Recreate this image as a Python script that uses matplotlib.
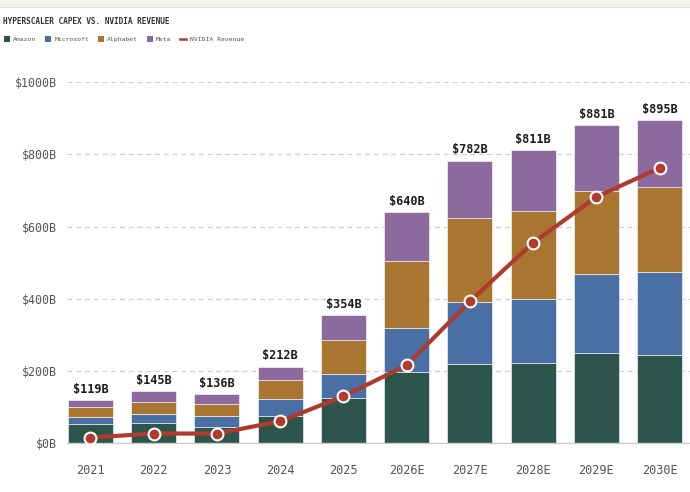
import numpy as np
import matplotlib
matplotlib.use("Agg")
import matplotlib.pyplot as plt
from matplotlib.patches import Rectangle
from matplotlib.lines import Line2D

# data (USD billions)
years = ["2021", "2022", "2023", "2024", "2025", "2026E", "2027E", "2028E", "2029E", "2030E"]
amazon = [54, 57, 46, 76, 126, 197, 220, 223, 249, 245]
microsoft = [20, 23, 29, 46, 67, 122, 170, 177, 220, 230]
alphabet = [26, 34, 33, 53, 92, 186, 233, 243, 230, 235]
meta = [19, 31, 28, 37, 69, 135, 159, 168, 182, 185]
nvidia_rev = [16, 27, 27, 61, 130, 216, 393, 555, 682, 762]
y_ticks = [0, 200, 400, 600, 800, 1000]

names = ["Amazon", "Microsoft", "Alphabet", "Meta"]
colors = ["#2d554b", "#4a6fa5", "#a87630", "#8d6a9e"]
line_color = "#b03a2e"
mono = "DejaVu Sans Mono"

fig = plt.figure(figsize=(6.9, 4.92), dpi=100)
fig.patch.set_facecolor("white")
fig.patches.append(Rectangle((0, 1 - 7 / 492), 1, 7 / 492, transform=fig.transFigure,
                             facecolor="#f3f2ee", edgecolor="none"))
fig.add_artist(Line2D([0, 1], [1 - 7 / 492, 1 - 7 / 492], transform=fig.transFigure,
                      color="#e2e0da", lw=0.8))

ax = fig.add_axes([67 / 690, 1 - 443.3 / 492, 1 - 67 / 690, (443.3 - 82) / 492])

x = np.arange(len(years))
series = [amazon, microsoft, alphabet, meta]
bottom = np.zeros(len(years))
for vals, name, c in zip(series, names, colors):
    ax.bar(x, vals, 0.71, bottom=bottom, color=c, edgecolor="#ffffff", linewidth=0.4,
           label=name, zorder=2)
    bottom += np.array(vals)

totals = bottom
for xi, t in zip(x, totals):
    ax.text(xi, t + 12, f"${int(t)}B", ha="center", va="bottom", fontsize=8.6,
            fontweight="bold", family=mono, color="#1e1e1e", zorder=5)

ax.plot(x, nvidia_rev, color=line_color, lw=3, marker="o", markersize=8.5,
        markerfacecolor=line_color, markeredgecolor="white", markeredgewidth=1.5,
        label="NVIDIA Revenue", zorder=4)

ax.set_xlim(-0.37, 9.48)
ax.set_ylim(0, 1000)
ax.set_yticks(y_ticks)
ax.set_yticklabels([f"${v}B" for v in y_ticks])
ax.set_xticks(x)
ax.set_xticklabels(years)
for lab in ax.get_xticklabels() + ax.get_yticklabels():
    lab.set_family(mono)
    lab.set_color("#555555")
ax.tick_params(axis="x", length=0, pad=15, labelsize=8.6)
ax.tick_params(axis="y", length=0, pad=7, labelsize=8.4)
for s in ["top", "right", "left"]:
    ax.spines[s].set_visible(False)
ax.spines["bottom"].set_color("#cccccc")
ax.spines["bottom"].set_linewidth(1)
ax.spines["bottom"].set_zorder(3)
for v in y_ticks[1:]:
    ax.axhline(v, color="#cfcfcf", lw=0.9, ls=(0, (4, 3)), zorder=1)

fig.text(3 / 690, 1 - 22 / 492, "HYPERSCALER CAPEX VS. NVIDIA REVENUE", fontsize=5.6,
         family=mono, color="#333333", va="center", ha="left", fontweight="bold")

handles = [Rectangle((0, 0), 1, 1, facecolor=c, edgecolor="none") for c in colors]
handles.append(Line2D([0], [0], color=line_color, lw=1.8))
leg = fig.legend(handles, names + ["NVIDIA Revenue"], loc="center left",
                 bbox_to_anchor=(-2 / 690, 1 - 39 / 492), ncol=5, frameon=False,
                 prop={"family": mono, "size": 4.6}, handlelength=1.0, handleheight=1.0,
                 handletextpad=0.5, columnspacing=1.3)
for t in leg.get_texts():
    t.set_color("#555555")

fig.savefig("out.png", dpi=100)
